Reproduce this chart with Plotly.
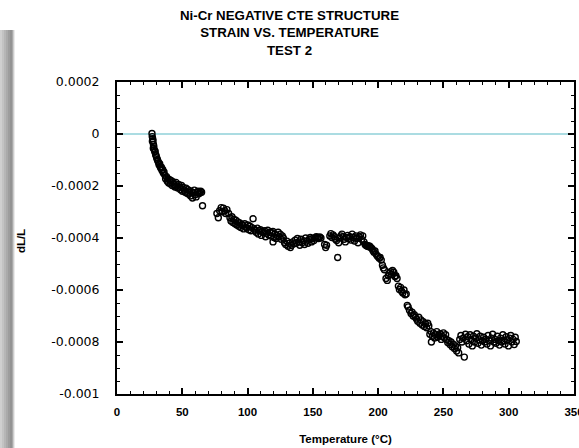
import plotly.graph_objects as go

# ---- data (temperature in °C, strain in units of 1e-6) ----
temperature = [
    26.8, 27.0, 27.3, 27.1, 27.6, 27.9, 28.2, 27.8, 28.5, 28.9, 29.2, 29.6, 30.0, 30.4, 30.9,
    31.3, 31.8, 32.2, 32.7, 33.1, 33.6, 34.0, 34.5, 35.0, 35.5, 36.0, 36.6,
    37.2, 37.9, 38.5, 39.0, 39.6, 40.3, 41.0, 41.6, 42.3, 43.0, 43.7, 44.4, 45.1, 45.8, 46.5, 47.2,
    48.0, 48.7, 49.4, 50.1, 50.8, 51.5, 52.2, 52.9, 53.6, 54.3, 55.0, 55.7, 56.4, 57.1, 57.8, 58.5,
    59.2, 59.9, 60.6, 61.3, 62.0, 62.7, 63.4, 64.1, 64.8,
    65.5,
    76.5, 77.6, 78.6, 79.8, 80.5, 81.5, 82.5, 83.2, 84.2, 85.5,
    86.5, 87.3, 88.0, 88.8, 89.5, 90.3, 91.0, 91.8, 92.5, 93.3, 94.0, 94.8, 95.5, 96.3, 97.0, 97.8,
    98.6, 99.4, 100.2, 101.0, 101.8, 102.6, 103.4, 104.2, 105.0,
    105.8, 106.6, 107.4, 108.2, 109.0, 109.8, 110.6, 111.4, 112.2, 113.0, 113.8, 114.6, 115.4, 116.2,
    117.0, 117.8, 118.6, 119.4, 120.2, 121.0, 121.8, 122.6, 123.4, 124.2, 125.0, 125.8, 126.6, 127.4,
    119.5,
    128.3, 129.2, 130.1, 131.0, 131.9, 132.8, 133.7, 134.6, 135.5,
    136.4, 137.3, 138.2, 139.1, 140.0, 140.9, 141.8, 142.7, 143.6, 144.5, 145.4, 146.3, 147.2, 148.1,
    149.0, 149.9, 150.8, 151.7, 152.6, 153.5, 154.4, 155.3, 156.2,
    159.0, 159.8, 160.5,
    163.0, 163.8, 164.6, 165.5, 166.5, 167.3, 168.2, 169.0, 169.8, 170.6, 171.4, 172.3, 173.2, 174.0,
    174.9, 175.8, 176.7, 177.5,
    178.4, 179.2, 180.1, 181.0, 181.9, 182.8, 183.7, 184.6, 185.5, 186.4, 187.3, 188.2, 189.1, 190.0,
    190.6, 191.2, 191.8, 192.4, 193.0, 193.6, 194.2,
    195.2, 196.0, 196.8, 197.6, 198.4, 199.2, 200.0, 200.8, 201.6, 202.4,
    203.3, 204.0, 204.8,
    206.0, 207.0, 207.8, 208.6, 209.5, 210.3, 211.0, 212.0, 212.8, 213.6, 214.5,
    215.5, 216.3, 217.2, 218.0, 218.9, 219.8, 220.6, 221.5,
    222.3, 223.0,
    224.0, 225.2, 226.0, 226.8, 227.7, 228.5,
    229.4, 230.3, 231.1, 232.0, 232.8, 233.7, 234.5, 235.4, 236.2, 237.1, 238.0, 238.8,
    239.6, 240.5, 240.8, 241.5, 242.3, 243.2, 244.0, 244.9, 245.7, 246.6, 247.4, 248.3, 249.1, 250.0,
    250.8, 251.7,
    252.5, 253.3, 254.2, 255.0, 255.8, 256.7, 257.5, 258.4, 259.2, 260.1, 260.9, 261.7,
    266.0,
    262.5, 263.4, 264.2, 265.1, 266.9, 267.8, 268.6, 269.5, 270.4, 271.2, 272.1, 273.0, 273.8, 274.7,
    275.6, 276.4, 277.3, 278.2, 279.0, 279.9, 280.8, 281.6, 282.5, 283.4, 284.2, 285.1, 286.0, 286.8,
    287.7, 288.6, 289.4, 290.3, 291.2, 292.0, 292.9, 293.8, 294.6, 295.5, 296.4, 297.2, 298.1, 299.0,
    299.8, 300.7, 301.6, 302.4, 303.3, 304.2, 305.0, 305.8,
]

strain_micro = [
    2, -10, -18, -28, -26, -40, -48, -55, -60, -68, -66, -80, -84, -92, -98,
    -104, -110, -118, -114, -126, -132, -128, -140, -136, -150, -146, -158,
    -172, -164, -182, -172, -188, -176, -192, -180, -198, -184, -194, -204, -186, -200, -208, -194,
    -205, -214, -198, -220, -206, -216, -224, -208, -228, -214, -232, -218, -238, -222, -246, -226,
    -216, -234, -242, -224, -220, -230, -226, -220, -224,
    -276,
    -306, -322, -295, -283, -299, -285, -295, -306, -291, -306,
    -322, -335, -318, -340, -328, -345, -332, -350, -338, -355, -342, -360, -348, -352, -365, -345,
    -358, -362, -350, -368, -355, -372, -360, -326, -365,
    -370, -378, -362, -385, -372, -368, -390, -375, -380, -372, -395, -382, -370, -388,
    -378, -392, -380, -375, -398, -385, -402, -390, -378, -395, -385, -405, -392, -400,
    -415,
    -418, -425, -412, -432, -420, -437, -428, -415, -422,
    -408, -420, -402, -415, -428, -405, -418, -410, -425, -400, -412, -420, -405, -398,
    -415, -402, -410, -400, -395, -398, -402, -396, -400,
    -425, -437, -428,
    -392, -383, -398, -388, -395, -405, -410, -475, -418, -400, -392, -385, -395, -405,
    -415, -398, -390, -402,
    -395, -408, -385, -398, -412, -392, -402, -418, -395, -388, -405, -392, -415, -425,
    -428, -430, -432, -430, -434, -432, -436,
    -440, -448, -455, -450, -462, -468, -472, -478, -475, -485,
    -505, -515, -522,
    -556, -563, -545, -536, -530, -540, -525, -532, -548, -545, -556,
    -585, -598, -590, -605, -612, -600, -618, -615,
    -659, -665,
    -678, -690, -685, -700, -695, -705,
    -712, -720, -705, -728, -715, -735, -722, -740, -730, -745, -728, -738,
    -770, -760, -800, -778, -765, -785, -772, -760, -782, -775, -768, -790, -778, -765,
    -785, -772,
    -790, -802, -795, -810, -800, -818, -808, -825, -815, -835, -822, -842,
    -858,
    -790, -775, -800, -785, -770, -795, -780, -808, -772, -790, -815, -778, -800, -785,
    -768, -805, -792, -778, -812, -795, -782, -800, -790, -808, -775, -795, -815, -785,
    -770, -800, -790, -805, -778, -795, -812, -785, -800, -772, -795, -808, -780, -792,
    -815, -785, -775, -800, -790, -810, -782, -798,
]

strain = [v * 1e-6 for v in strain_micro]

baseline_x = [0, 350]
baseline_y = [0, 0]

x_tick_vals = [0, 50, 100, 150, 200, 250, 300, 350]
y_tick_vals = [-0.001, -0.0008, -0.0006, -0.0004, -0.0002, 0, 0.0002]
y_tick_text = ["-0.001", "-0.0008", "-0.0006", "-0.0004", "-0.0002", "0", "0.0002"]

title_lines = ["Ni-Cr NEGATIVE CTE STRUCTURE", "STRAIN VS. TEMPERATURE", "TEST 2"]

W, H = 579, 448
ML, MR, MT, MB = 117, 5, 82, 54

fig = go.Figure()
fig.add_trace(go.Scatter(
    x=baseline_x, y=baseline_y, mode="lines",
    line=dict(color="#8fd0d8", width=1.6), hoverinfo="skip", showlegend=False,
))
fig.add_trace(go.Scatter(
    x=temperature, y=strain, mode="markers",
    marker=dict(symbol="circle-open", size=6, color="black", line=dict(width=1.4)),
    showlegend=False, cliponaxis=False,
))

# decorative gray bar at the left edge (pixel strips converted to paper coords)
pw = W - ML - MR
ph = H - MT - MB
strips = [(0, 2, "#cfcfcf"), (2, 4, "#c3c3c3"), (4, 6, "#b6b6b6"), (6, 8, "#aaaaaa"),
          (8, 10, "#9d9d9d"), (10, 12, "#939393"), (12, 13, "#a8a8a8"), (13, 14, "#cdcdcd"),
          (14, 15, "#ebebeb")]
shapes = []
for x0, x1, c in strips:
    shapes.append(dict(type="rect", xref="paper", yref="paper",
                       x0=(x0 - ML) / pw, x1=(x1 - ML) / pw,
                       y0=(H - MB - 448) / ph, y1=(H - MB - 30) / ph,
                       fillcolor=c, line=dict(width=0), layer="below"))

fig.update_layout(
    width=W, height=H,
    margin=dict(l=ML, r=MR, t=MT, b=MB, autoexpand=False),
    paper_bgcolor="white", plot_bgcolor="white",
    shapes=shapes,
    title=dict(text="<br>".join(title_lines), x=0.5, xanchor="center", xref="container",
               y=1 - 20 / H, yanchor="top", yref="container", automargin=False,
               font=dict(family="Liberation Sans, Arial, sans-serif", size=13.3, color="black",
                         weight="bold")),
    xaxis=dict(
        range=[0, 350], tickvals=x_tick_vals, ticks="inside", ticklen=6, tickwidth=1.5,
        tickcolor="black", showline=True, linewidth=2, linecolor="black", mirror="ticks",
        showgrid=False, zeroline=False, automargin=False, ticklabeloverflow="allow",
        minor=dict(dtick=10, ticks="inside", ticklen=3, tickwidth=1.2, tickcolor="black"),
        tickfont=dict(family="Liberation Sans, Arial, sans-serif", size=11.5, color="black",
                      weight="bold"),
        ticklabelstandoff=6,
        title=dict(text="Temperature (°C)", standoff=18,
                   font=dict(family="Liberation Sans, Arial, sans-serif", size=11.5,
                             color="black", weight="bold")),
    ),
    yaxis=dict(
        range=[-0.001, 0.0002], tickvals=y_tick_vals, ticktext=y_tick_text,
        ticks="inside", ticklen=6, tickwidth=1.5, tickcolor="black",
        showline=True, linewidth=2, linecolor="black", mirror="ticks",
        showgrid=False, zeroline=False, automargin=False,
        minor=dict(dtick=0.00005, ticks="inside", ticklen=3, tickwidth=1.2, tickcolor="black"),
        tickfont=dict(family="DejaVu Sans, sans-serif", size=12.5, color="black"),
        ticklabelstandoff=13,
    ),
    annotations=[dict(text="dL/L", xref="paper", yref="paper",
                      x=(21 - ML) / pw, y=0.49, xanchor="center", yanchor="middle",
                      textangle=-90, showarrow=False,
                      font=dict(family="Liberation Sans, Arial, sans-serif", size=11.5,
                                color="black", weight="bold"))],
)

fig.write_html("out.html", config={"displayModeBar": False},
               post_script="document.body.style.margin='0';")
